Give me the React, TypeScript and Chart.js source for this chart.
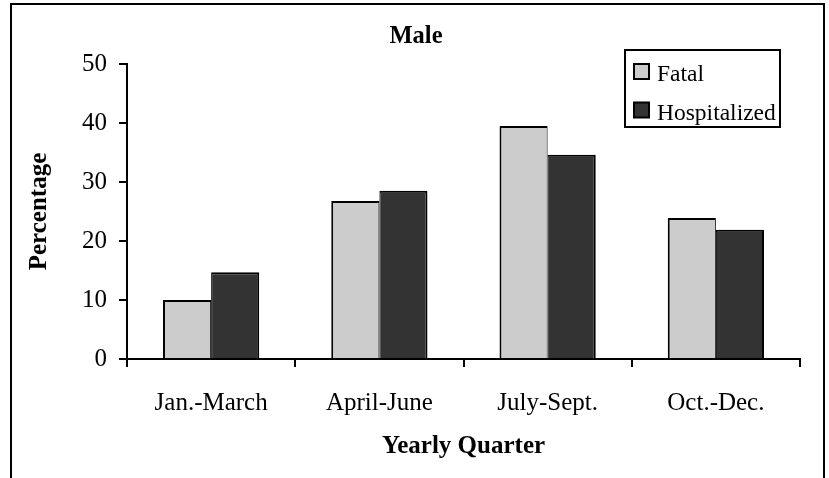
import React, { useEffect, useRef } from "react";
import { Chart, registerables } from "chart.js";

Chart.register(...registerables);

const categories = ["Jan.-March", "April-June", "July-Sept.", "Oct.-Dec."];
const fatalValues = [10.0, 26.8, 39.5, 23.9];
const hospitalizedValues = [14.7, 28.5, 34.6, 21.9];
const seriesLabels = ["Fatal", "Hospitalized"];
const seriesColors = ["#cccccc", "#333333"];
const titleText = "Male";
const xTitle = "Yearly Quarter";
const yTitle = "Percentage";
const yMin = 0;
const yMax = 50;
const yStep = 10;

const FONT = "'Liberation Serif', 'Times New Roman', serif";

const framePlugin = {
  id: "frame",
  afterDraw(chart: any) {
    const ctx = chart.ctx;
    ctx.save();
    ctx.strokeStyle = "#000";
    ctx.lineWidth = 2;
    ctx.strokeRect(11, 4, 813, 600);
    ctx.restore();
  },
};

const legendPlugin = {
  id: "boxLegend",
  afterDraw(chart: any) {
    const ctx = chart.ctx;
    ctx.save();
    ctx.strokeStyle = "#000";
    ctx.lineWidth = 2;
    ctx.fillStyle = "#fff";
    ctx.fillRect(625, 50, 155, 77);
    ctx.strokeRect(625, 50, 155, 77);
    const rows = [71.5, 110];
    chart.data.datasets.forEach((ds: any, i: number) => {
      const cy = rows[i];
      ctx.fillStyle = ds.backgroundColor;
      ctx.fillRect(634, cy - 7.5, 15, 15);
      ctx.strokeStyle = "#000";
      ctx.lineWidth = 2;
      ctx.strokeRect(634, cy - 7.5, 15, 15);
      ctx.fillStyle = "#000";
      ctx.font = `23.5px ${FONT}`;
      ctx.textAlign = "left";
      ctx.textBaseline = "alphabetic";
      ctx.fillText(ds.label, 657, cy + 9.5);
    });
    ctx.restore();
  },
};

export default function App() {
  const canvasRef = useRef<HTMLCanvasElement | null>(null);

  useEffect(() => {
    const canvas = canvasRef.current;
    if (!canvas) return;
    const chart = new Chart(canvas, {
      type: "bar",
      data: {
        labels: categories,
        datasets: [
          {
            label: seriesLabels[0],
            data: fatalValues,
            backgroundColor: seriesColors[0],
            borderColor: "#000",
            borderWidth: { top: 2, left: 2, right: 1, bottom: 0 },
            borderSkipped: "start",
            categoryPercentage: 0.572,
            barPercentage: 1,
          },
          {
            label: seriesLabels[1],
            data: hospitalizedValues,
            backgroundColor: seriesColors[1],
            borderColor: "#000",
            borderWidth: { top: 2, left: 1, right: 2, bottom: 0 },
            borderSkipped: "start",
            categoryPercentage: 0.572,
            barPercentage: 1,
          },
        ],
      },
      options: {
        responsive: false,
        animation: false,
        devicePixelRatio: 1,
        layout: { padding: { left: 32, right: 29, top: 0, bottom: 0 } },
        plugins: {
          legend: { display: false },
          tooltip: { enabled: false },
          title: {
            display: true,
            text: titleText,
            color: "#000",
            font: { family: FONT, size: 24.5, weight: "bold" },
            padding: { top: 22, bottom: 12.6 },
          },
        },
        scales: {
          x: {
            grid: {
              display: true,
              drawOnChartArea: false,
              drawTicks: true,
              tickLength: 8,
              color: "#000",
              lineWidth: 2,
              offset: true,
            },
            border: { display: true, color: "#000", width: 2 },
            ticks: {
              color: "#000",
              font: { family: FONT, size: 25 },
              padding: 21.4,
              maxRotation: 0,
              autoSkip: false,
            },
            title: {
              display: true,
              text: xTitle,
              color: "#000",
              font: { family: FONT, size: 25, weight: "bold" },
              padding: { top: 0, bottom: 16.3 },
            },
            afterFit: (s: any) => {
              s.height = 119;
            },
          },
          y: {
            min: yMin,
            max: yMax,
            grid: {
              display: true,
              drawOnChartArea: false,
              drawTicks: true,
              tickLength: 8,
              color: "#000",
              lineWidth: 2,
            },
            border: { display: true, color: "#000", width: 2 },
            ticks: {
              stepSize: yStep,
              color: "#000",
              font: { family: FONT, size: 25 },
              padding: 12,
            },
            title: {
              display: true,
              text: yTitle,
              color: "#000",
              font: { family: FONT, size: 25, weight: "bold" },
              padding: { top: -7, bottom: 0 },
            },
            afterFit: (s: any) => {
              s.width = 95;
            },
          },
        },
      },
      plugins: [framePlugin, legendPlugin],
    });
    return () => chart.destroy();
  }, []);

  return (
    <div style={{ position: "absolute", left: 0, top: 0, width: 829, height: 478, background: "#fff" }}>
      <canvas ref={canvasRef} width={829} height={478} style={{ display: "block" }} />
    </div>
  );
}
